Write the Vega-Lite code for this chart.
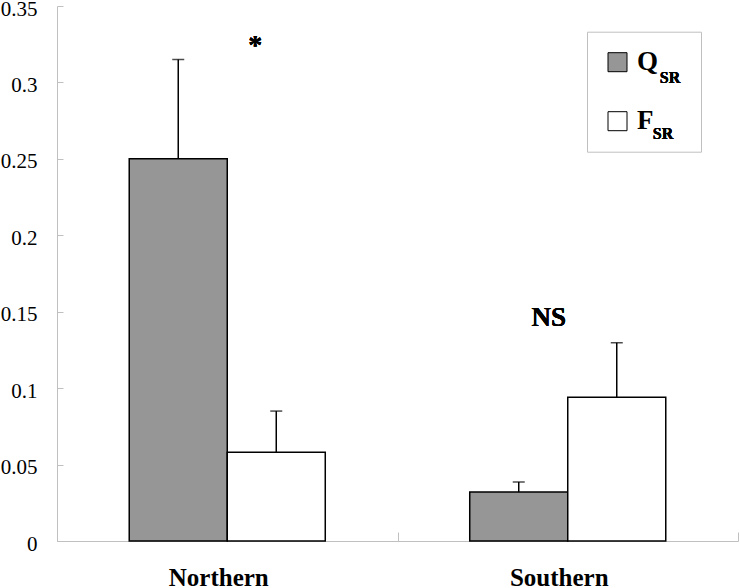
{
  "$schema": "https://vega.github.io/schema/vega-lite/v6.json",
  "width": 681,
  "height": 535,
  "autosize": {"type": "none"},
  "padding": {"left": 57, "top": 6, "right": 2, "bottom": 47},
  "background": "white",
  "config": {
    "view": {"stroke": null},
    "font": "Liberation Serif"
  },
  "data": {
    "values": [
      {"region": "Northern", "series": "Q", "value": 0.25, "upper": 0.315},
      {"region": "Northern", "series": "F", "value": 0.058, "upper": 0.085},
      {"region": "Southern", "series": "Q", "value": 0.032, "upper": 0.0386},
      {"region": "Southern", "series": "F", "value": 0.094, "upper": 0.1297}
    ]
  },
  "encoding": {
    "x": {
      "field": "region",
      "type": "nominal",
      "sort": ["Northern", "Southern"],
      "scale": {"paddingInner": 0, "paddingOuter": 0},
      "axis": {
        "title": null,
        "labelAngle": 0,
        "labelFont": "Liberation Serif",
        "labelFontWeight": "bold",
        "labelFontSize": 25,
        "labelColor": "black",
        "labelPadding": 33,
        "labelOffset": -9,
        "tickBand": "extent",
        "tickSize": -9,
        "tickColor": "#c0c0c0",
        "domainColor": "#c0c0c0",
        "domainWidth": 1
      }
    }
  },
  "layer": [
    {
      "mark": {"type": "bar", "stroke": "black", "strokeWidth": 1.5},
      "encoding": {
        "xOffset": {"field": "series", "type": "nominal", "sort": ["Q", "F"], "scale": {"paddingInner": 0, "paddingOuter": 0.737}},
        "y": {
          "field": "value",
          "type": "quantitative",
          "scale": {"domain": [0, 0.35], "nice": false},
          "axis": {
            "title": null,
            "values": [0, 0.05, 0.1, 0.15, 0.2, 0.25, 0.3, 0.35],
            "format": ".2~f",
            "grid": false,
            "labelFont": "Liberation Serif",
            "labelFontSize": 21,
            "labelColor": "black",
            "labelPadding": 26,
            "labelOffset": 3,
            "tickSize": -6,
            "tickColor": "#c0c0c0",
            "domainColor": "#c0c0c0"
          }
        },
        "fill": {
          "field": "series",
          "type": "nominal",
          "sort": ["Q", "F"],
          "scale": {"domain": ["Q", "F"], "range": ["#969696", "#ffffff"]},
          "legend": {
            "title": ".",
            "titleOrient": "right",
            "titleFontSize": 4,
            "titleColor": "transparent",
            "titlePadding": 25,
            "orient": "none",
            "legendX": 530,
            "legendY": 25.7,
            "symbolType": "square",
            "symbolSize": 361,
            "symbolStrokeColor": "black",
            "symbolStrokeWidth": 1,
            "labelFont": "Liberation Serif",
            "labelFontWeight": "bold",
            "labelFontSize": 27,
            "labelColor": "black",
            "labelOffset": 6,
            "padding": 17,
            "rowPadding": 31,
            "strokeColor": "#c0c0c0"
          }
        }
      }
    },
    {
      "mark": {"type": "rule", "color": "black", "strokeWidth": 1.5},
      "encoding": {
        "xOffset": {"field": "series", "type": "nominal", "sort": ["Q", "F"]},
        "y": {"field": "value", "type": "quantitative"},
        "y2": {"field": "upper"}
      }
    },
    {
      "mark": {"type": "tick", "color": "black", "size": 12, "thickness": 1.5},
      "encoding": {
        "xOffset": {"field": "series", "type": "nominal", "sort": ["Q", "F"]},
        "y": {"field": "upper", "type": "quantitative"}
      }
    },
    {
      "mark": {"type": "text", "text": "*", "font": "Liberation Serif", "fontWeight": "bold", "fontSize": 28, "align": "center", "baseline": "alphabetic", "dx": 28},
      "encoding": {
        "x": {"datum": "Northern"},
        "y": {"datum": 0.3186}
      }
    },
    {
      "mark": {"type": "text", "text": "NS", "font": "Liberation Serif", "fontWeight": "bold", "fontSize": 27, "align": "center", "baseline": "alphabetic", "dx": -19},
      "encoding": {
        "x": {"datum": "Southern"},
        "y": {"datum": 0.1407}
      }
    },
    {
      "mark": {"type": "text", "text": "SR", "font": "Liberation Serif", "fontWeight": "bold", "fontSize": 16, "align": "left", "baseline": "alphabetic", "dx": 92},
      "encoding": {
        "x": {"datum": "Southern"},
        "y": {"datum": 0.2998}
      }
    },
    {
      "mark": {"type": "text", "text": "SR", "font": "Liberation Serif", "fontWeight": "bold", "fontSize": 16, "align": "left", "baseline": "alphabetic", "dx": 85},
      "encoding": {
        "x": {"datum": "Southern"},
        "y": {"datum": 0.263}
      }
    }
  ]
}
